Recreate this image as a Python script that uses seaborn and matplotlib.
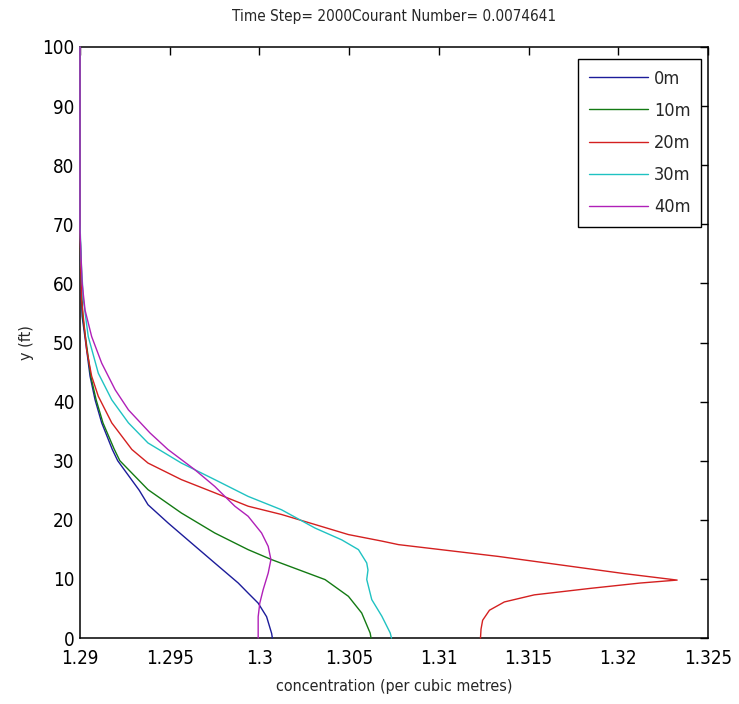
import matplotlib
matplotlib.use("Agg")
import matplotlib.pyplot as plt
import seaborn as sns
import pandas as pd

# ---- data ----
series_names = ["0m", "10m", "20m", "30m", "40m"]

y_0m = [0, 0.78, 3.6, 5.9, 7.6, 9.3, 12.69, 16.07, 19.46, 22.55, 25, 30, 31.9,
        36.4, 40.3, 44.3, 48.8, 54.4, 60, 65, 70, 100]
c_0m = [1.30072, 1.30068, 1.30040, 1.29993, 1.29937, 1.29882, 1.29751, 1.29621,
        1.29491, 1.29379, 1.29330, 1.29210, 1.29180, 1.29121, 1.29084, 1.29056,
        1.29037, 1.29012, 1.29005, 1.29003, 1.29, 1.29]

y_10m = [0, 0.85, 4.23, 7.05, 9.88, 11.57, 13.26, 14.95, 17.77, 21.15, 25.1, 30,
         32, 36.4, 40.3, 44.3, 48.8, 54.4, 60, 65, 70, 100]
c_10m = [1.30622, 1.30617, 1.30570, 1.30496, 1.30366, 1.30217, 1.30068, 1.29937,
         1.29751, 1.29565, 1.29379, 1.29222, 1.29190, 1.29128, 1.29090, 1.29060,
         1.29040, 1.29015, 1.29007, 1.29003, 1.29, 1.29]

y_20m = [0, 1.5, 3.0, 4.7, 6.1, 7.3, 8.4, 9.3, 9.8, 10.9, 13.8, 15.8, 16.4, 17.5,
         19.2, 20.9, 22.3, 24.57, 26.8, 29.6, 31.9, 36.4, 40.9, 44.3, 48.8, 57.2,
         62, 70, 100]
c_20m = [1.31232, 1.31235, 1.31244, 1.31282, 1.31365, 1.31532, 1.31845, 1.32122,
         1.32328, 1.32032, 1.31332, 1.30775, 1.30682, 1.30496, 1.30310, 1.30123,
         1.29937, 1.29751, 1.29565, 1.29379, 1.29289, 1.29177, 1.29102, 1.29065,
         1.29037, 1.29009, 1.29005, 1.29, 1.29]

y_30m = [0, 0.85, 3.7, 6.5, 9.9, 11.5, 12.7, 14.95, 16.6, 18.6, 21.7, 23.96, 26.8,
         29.6, 33.0, 36.4, 40.3, 44.8, 51.0, 57.2, 63, 70, 100]
c_30m = [1.30736, 1.30729, 1.30682, 1.30626, 1.30598, 1.30605, 1.30598, 1.30552,
         1.30459, 1.30310, 1.30123, 1.29937, 1.29751, 1.29565, 1.29379, 1.29270,
         1.29177, 1.29102, 1.29046, 1.29019, 1.29008, 1.29, 1.29]

y_40m = [0, 3.6, 5.9, 8.2, 11.0, 13.26, 15.5, 17.77, 20.6, 22.3, 25.65, 28.5, 31.9,
         34.7, 38.6, 42.0, 46.5, 51.0, 55.5, 60, 65, 69, 100]
c_40m = [1.29993, 1.29993, 1.30002, 1.30021, 1.30049, 1.30064, 1.30049, 1.30012,
         1.29937, 1.29863, 1.29751, 1.29639, 1.29490, 1.29390, 1.29270, 1.29196,
         1.29121, 1.29065, 1.29028, 1.29012, 1.29005, 1.29, 1.29]

x_ticks = [1.29, 1.295, 1.30, 1.305, 1.31, 1.315, 1.32, 1.325]
x_tick_labels = ["1.29", "1.295", "1.3", "1.305", "1.31", "1.315", "1.32", "1.325"]
y_ticks = [0, 10, 20, 30, 40, 50, 60, 70, 80, 90, 100]

title_text = "Time Step= 2000Courant Number= 0.0074641"
x_label = "concentration (per cubic metres)"
y_label = "y (ft)"

# ---- build table ----
frames = []
for name, ys, cs in zip(series_names,
                        [y_0m, y_10m, y_20m, y_30m, y_40m],
                        [c_0m, c_10m, c_20m, c_30m, c_40m]):
    frames.append(pd.DataFrame({"conc": cs, "y": ys, "series": name}))
df = pd.concat(frames, ignore_index=True)

sns.set_style("white")
plt.rcParams["font.family"] = ["DejaVu Sans"]
plt.rcParams["font.stretch"] = "condensed"

colors = ["#1c1c9a", "#137a13", "#d42020", "#1fc2c2", "#b020b8"]

fig = plt.figure(figsize=(7.39, 7.04), dpi=100)
ax = fig.add_axes([80 / 739, 1 - 638 / 704, 628 / 739, 591 / 704])

sns.lineplot(data=df, x="conc", y="y", hue="series", hue_order=series_names,
             palette=colors, sort=False, estimator=None, linewidth=1.0, ax=ax)
for ln in ax.lines:
    ln.set_zorder(3)
    ln.set_clip_on(False)

ax.set_xlim(1.29, 1.325)
ax.set_ylim(0, 100)
ax.set_xticks(x_ticks)
ax.set_xticklabels(x_tick_labels)
ax.set_yticks(y_ticks)
ax.tick_params(direction="in", length=6, width=1, top=True, right=True,
               labelsize=13.5, colors="black")
ax.tick_params(axis="x", pad=8)
ax.tick_params(axis="y", pad=4)
for s in ax.spines.values():
    s.set_color("black")
    s.set_linewidth(1.1)

ax.set_title(title_text, fontsize=11, pad=19)
ax.set_xlabel(x_label, fontsize=11.5, labelpad=8)
ax.set_ylabel(y_label, fontsize=11.5, labelpad=6)

leg = ax.legend(loc="upper right", fontsize=13, handlelength=3.3,
                frameon=True, fancybox=False, borderpad=0.6,
                labelspacing=0.78, handletextpad=0.3, borderaxespad=0,
                bbox_to_anchor=(0.989, 0.980))
leg.get_frame().set_edgecolor("black")
leg.get_frame().set_linewidth(1.0)
leg.get_frame().set_alpha(1)

fig.savefig("out.png", dpi=100)
